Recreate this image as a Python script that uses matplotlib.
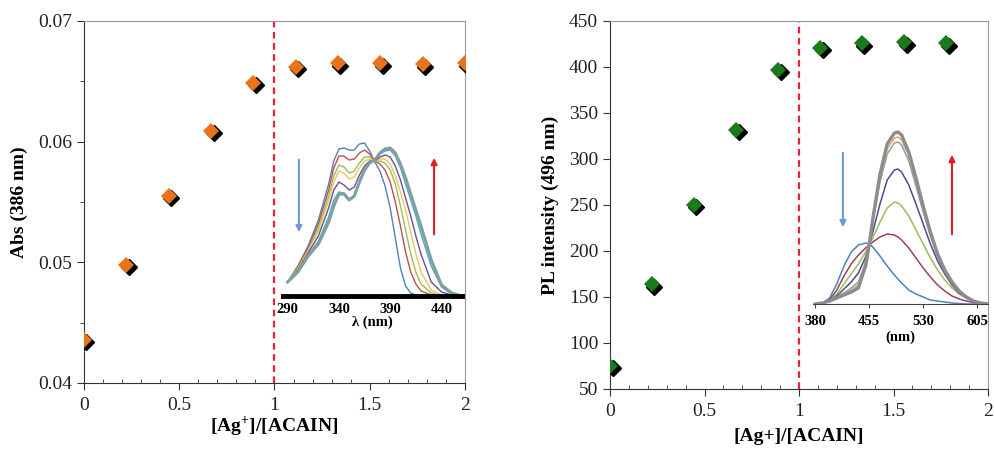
import matplotlib.pyplot as plt
import matplotlib.transforms as mtransforms
from matplotlib.ticker import MultipleLocator
import numpy as np

plt.rcParams['font.family'] = ['Liberation Serif', 'DejaVu Serif']
plt.rcParams['mathtext.fontset'] = 'custom'
plt.rcParams['mathtext.rm'] = 'Liberation Serif:bold'
plt.rcParams['mathtext.bf'] = 'Liberation Serif:bold'

# titration ratio [Ag+]/[ACAIN]
ratio_abs = np.array([0, 0.222, 0.444, 0.667, 0.889, 1.111, 1.333, 1.556, 1.778, 2.0])
abs_386 = np.array([0.0436, 0.0498, 0.0555, 0.0609, 0.0649, 0.0662, 0.0665, 0.0665, 0.0664, 0.0665])

ratio_pl = np.array([0, 0.222, 0.444, 0.667, 0.889, 1.111, 1.333, 1.556, 1.778])
pl_496 = np.array([75, 164, 250, 332, 397, 421, 426, 427, 426])

# inset 1: absorption spectra (arbitrary units)
abs_wl = np.array([290, 300, 310, 320, 330, 335, 340, 345, 350, 355, 360, 365, 370, 375,
                   380, 385, 390, 395, 400, 405, 410, 415, 420, 430, 440, 450, 460])
abs_spectra = [
    [14, 30, 50, 76, 112, 135, 147, 148, 146, 146, 152, 153, 145, 134, 125, 110, 88, 58, 28, 10, 3, 1, 0, 0, 0, 0, 0],
    [14, 29, 48, 72, 106, 128, 140, 140, 136, 137, 143, 146, 142, 135, 132, 126, 114, 94, 70, 44, 24, 12, 5, 1, 0, 0, 0],
    [14, 28, 46, 68, 100, 120, 131, 129, 123, 125, 133, 139, 139, 135, 135, 133, 126, 112, 90, 66, 42, 24, 12, 3, 0, 0, 0],
    [14, 27, 45, 65, 95, 114, 125, 123, 117, 119, 128, 135, 137, 135, 137, 137, 132, 120, 104, 86, 64, 42, 24, 6, 1, 0, 0],
    [14, 26, 43, 60, 88, 106, 114, 111, 106, 109, 121, 130, 135, 135, 139, 141, 139, 130, 116, 98, 80, 60, 42, 14, 4, 1, 0],
    [14, 25, 41, 55, 79, 96, 104, 103, 97, 100, 114, 126, 133, 136, 142, 145, 146, 140, 128, 112, 96, 80, 62, 30, 9, 2, 0],
    [14, 24, 40, 52, 74, 90, 102, 102, 96, 100, 114, 126, 133, 136, 143, 147, 148, 143, 132, 118, 102, 86, 70, 36, 11, 3, 0],
]
abs_colors = ['#4F81BD', '#C0504D', '#9BBB59', '#E8C85A', '#6A4E9A', '#4BACC6', '#7F9FA0']
abs_ticks = [290, 340, 390, 440]

# inset 2: emission spectra (arbitrary units)
pl_wl = np.array([380, 390, 400, 410, 420, 430, 440, 450, 455, 460, 470, 480, 490, 495,
                  500, 510, 520, 530, 540, 550, 560, 570, 580, 590, 600, 610, 620])
pl_spectra = [
    [0, 1, 6, 20, 38, 52, 59, 61, 60, 57, 48, 38, 29, 25, 21, 14, 10, 7, 4, 3, 2, 1, 0.5, 0, 0, 0, 0],
    [0, 1, 4, 14, 28, 40, 49, 56, 59, 62, 67, 70, 69, 67, 64, 56, 46, 36, 27, 19, 13, 8, 5, 3, 1.5, 0.5, 0],
    [0, 1, 3, 10, 20, 30, 40, 52, 59, 66, 82, 96, 102, 101, 98, 88, 74, 60, 46, 34, 24, 16, 10, 6, 3, 1, 0],
    [0, 1, 3, 8, 15, 22, 31, 47, 59, 72, 100, 124, 134, 135, 132, 119, 100, 80, 60, 43, 30, 19, 11, 6, 3, 1, 0],
    [0, 1, 3, 7, 11, 16, 22, 42, 59, 82, 122, 150, 161, 162, 159, 143, 118, 92, 68, 47, 32, 21, 12, 6, 3, 1, 0],
    [0, 1, 3, 6, 10, 14, 19, 40, 59, 84, 126, 155, 166, 167, 164, 148, 122, 95, 70, 49, 33, 22, 13, 7, 3, 1, 0],
    [0, 1, 3, 6, 9, 12, 16, 38, 59, 85, 130, 160, 171, 172, 169, 152, 126, 98, 72, 50, 34, 22, 13, 7, 3, 1, 0],
]
pl_colors = ['#4F81BD', '#A0405A', '#9BBB59', '#4E4A8E', '#8A9DA8', '#F2A65A', '#8C8C8C']
pl_ticks = [380, 455, 530, 605]

fig = plt.figure(figsize=(9.94, 4.5), dpi=100)


def main_panel(rect, x, y, color, ylim, ymajor, yminor, ylabel, xlabel, ytickfmt, xpad):
    ax = fig.add_axes(rect)
    shadow = mtransforms.offset_copy(ax.transData, fig=fig, x=2.5, y=-2.5, units='dots')
    ax.plot(x, y, 'D', color='black', markersize=8.5, transform=shadow, zorder=3)
    ax.plot(x, y, 'D', color=color, markersize=8.5, markeredgewidth=0, zorder=4)
    ax.axvline(1, color='#E8203A', linestyle=(0, (3, 2)), linewidth=1.6, zorder=2)
    ax.set_xlim(0, 2)
    ax.set_ylim(*ylim)
    ax.xaxis.set_major_locator(MultipleLocator(0.5))
    ax.xaxis.set_minor_locator(MultipleLocator(0.1))
    ax.yaxis.set_major_locator(MultipleLocator(ymajor))
    if yminor:
        ax.yaxis.set_minor_locator(MultipleLocator(yminor))
    ax.xaxis.set_major_formatter(plt.FuncFormatter(lambda v, p: f'{v:g}'))
    ax.yaxis.set_major_formatter(plt.FuncFormatter(ytickfmt))
    ax.tick_params(axis='both', which='major', direction='out', length=5, labelsize=14,
                   colors='#333333', labelcolor='#222222')
    ax.tick_params(axis='x', which='major', pad=5)
    ax.tick_params(axis='x', which='minor', direction='in', length=3, color='#333333')
    ax.tick_params(axis='y', which='minor', direction='out', length=3, color='#333333')
    for side in ['left', 'bottom']:
        ax.spines[side].set_color('#333333')
    for side in ['top', 'right']:
        ax.spines[side].set_color('#999999')
    ax.set_xlabel(xlabel, fontsize=14, fontweight='bold', labelpad=xpad)
    ax.set_ylabel(ylabel, fontsize=14, fontweight='bold', labelpad=7)
    return ax


ax1 = main_panel([0.0845, 0.149, 0.3833, 0.8044], ratio_abs, abs_386, '#E8731A',
                 (0.04, 0.07), 0.01, 0.005, 'Abs (386 nm)', '[Ag$^{+}$]/[ACAIN]',
                 lambda v, p: f'{v:.2f}', 0)
ax2 = main_panel([0.6137, 0.1356, 0.3803, 0.8178], ratio_pl, pl_496, '#1B7A1B',
                 (50, 450), 50, None, 'PL intensity (496 nm)', '[Ag+]/[ACAIN]',
                 lambda v, p: f'{v:.0f}', 6)

# inset: absorption
ins1 = fig.add_axes([0.2847, 0.3422, 0.1801, 0.3511], facecolor='none')
for spec, col in zip(abs_spectra, abs_colors):
    lw = 2.2 if col == '#7F9FA0' else 1.0
    ins1.plot(abs_wl, spec, color=col, linewidth=lw)
ins1.set_xlim(285.5, 460)
ins1.set_ylim(0, 158)
for side in ['top', 'right', 'left']:
    ins1.spines[side].set_visible(False)
ins1.spines['bottom'].set_linewidth(3.5)
ins1.spines['bottom'].set_color('black')
ins1.set_yticks([])
ins1.set_xticks(abs_ticks)
ins1.tick_params(axis='x', length=0, pad=5, labelsize=10.5)
for lab in ins1.get_xticklabels():
    lab.set_fontweight('bold')
ins1.set_xlabel('λ (nm)', fontsize=10.5, fontweight='bold', labelpad=0)
ins1.annotate('', xy=(0.089, 0.386), xytext=(0.089, 0.88), xycoords='axes fraction',
              arrowprops=dict(arrowstyle='-|>', color='#6C9BD2', lw=1.5, mutation_scale=9))
ins1.annotate('', xy=(0.844, 0.892), xytext=(0.844, 0.373), xycoords='axes fraction',
              arrowprops=dict(arrowstyle='-|>', color='#E31B23', lw=1.5, mutation_scale=9))

# inset: emission
ins2 = fig.add_axes([0.8179, 0.3244, 0.1761, 0.40], facecolor='none')
for spec, col in zip(pl_spectra, pl_colors):
    lw = 2.4 if col == '#8C8C8C' else 1.1
    ins2.plot(pl_wl, spec, color=col, linewidth=lw)
ins2.set_xlim(377, 620)
ins2.set_ylim(0, 180)
for side in ['top', 'right', 'left']:
    ins2.spines[side].set_visible(False)
ins2.spines['bottom'].set_color('#444444')
ins2.set_yticks([])
ins2.set_xticks(pl_ticks)
ins2.tick_params(axis='x', length=3, color='#444444', pad=5, labelsize=10.5)
for lab in ins2.get_xticklabels():
    lab.set_fontweight('bold')
ins2.set_xlabel('(nm)', fontsize=10.5, fontweight='bold', labelpad=2)
ins2.annotate('', xy=(0.171, 0.411), xytext=(0.171, 0.856), xycoords='axes fraction',
              arrowprops=dict(arrowstyle='-|>', color='#6C9BD2', lw=1.5, mutation_scale=9))
ins2.annotate('', xy=(0.794, 0.844), xytext=(0.794, 0.372), xycoords='axes fraction',
              arrowprops=dict(arrowstyle='-|>', color='#E31B23', lw=1.5, mutation_scale=9))

fig.savefig('out.png', dpi=100)
